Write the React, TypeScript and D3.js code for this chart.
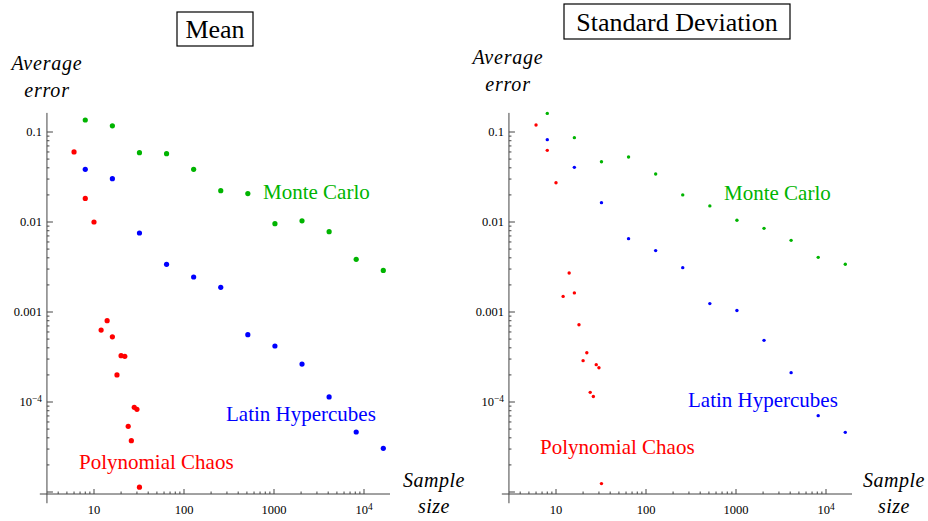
import React from 'react';
import * as d3 from 'd3';

// sample sizes (x)
const sampleSizes = [8, 16, 32, 64, 128, 256, 512, 1024, 2048, 4096, 8192, 16384];
const chaosSizes = [6, 8, 10, 12, 14, 16, 18, 20, 22, 24, 26, 28, 30, 32];

// Mean panel
const meanMonteCarlo = [0.136, 0.117, 0.0589, 0.0574, 0.0385, 0.0223, 0.0207, 0.00957, 0.0103, 0.00781, 0.00385, 0.0029];
const meanLatin = [0.0385, 0.0303, 0.00755, 0.00339, 0.00245, 0.00188, 0.00056, 0.000419, 0.000264, 0.000114, 0.0000464, 0.0000306];
const meanChaos = [0.06, 0.0183, 0.01, 0.00063, 0.0008, 0.00053, 0.0002, 0.000327, 0.000322, 0.0000537, 0.0000372, 0.0000873, 0.000083, 0.0000113];

// Standard deviation panel
const stdMonteCarlo = [0.161, 0.0865, 0.0468, 0.0528, 0.0341, 0.02, 0.0151, 0.01045, 0.0085, 0.00625, 0.00405, 0.00339];
const stdLatin = [0.0822, 0.0405, 0.0164, 0.00653, 0.00481, 0.00311, 0.00124, 0.00104, 0.000484, 0.000212, 0.0000705, 0.000046];
const stdChaos = [0.1196, 0.0625, 0.0273, 0.00149, 0.00271, 0.00163, 0.000723, 0.000288, 0.000353, 0.000128, 0.000115, 0.00026, 0.00024, 0.0000124];

const xTicks = [10, 100, 1000, 10000];
const xTickLabels = ['10', '100', '1000', '10|4'];
const yTicks = [0.1, 0.01, 0.001, 0.0001, 0.00001];
const yTickLabels = ['0.1', '0.01', '0.001', '10|−4', ''];

const seriesNames = ['Monte Carlo', 'Latin Hypercubes', 'Polynomial Chaos'];
const seriesColors = ['#00b400', '#0000ff', '#ff0000'];

const serif = '"Liberation Serif", "Times New Roman", serif';
const axisColor = '#444';

// axis extents in data units
const xAxisFrom = 2.5, xAxisTo = 19450, xCross = 3.0;
const yAxisFrom = 7.5e-6, yAxisTo = 0.163, yCross = 9.5e-6;

type Label = { x: number; y: number };
type PanelProps = {
  title: string;
  box: { x: number; y: number; w: number; h: number; base: number };
  x0: number;
  radius: number;
  values: number[][];
  seriesLabels: Label[];
  yLab: { x: number; y: number };
  xLab: { x: number; y: number };
};

function Sup({ text }: { text: string }) {
  const [base, sup] = text.split('|');
  if (sup === undefined) return <>{base}</>;
  return (
    <>
      {base}
      <tspan dy="-0.45em" fontSize="0.75em">{sup}</tspan>
    </>
  );
}

function Panel({ title, box, x0, radius, values, seriesLabels, yLab, xLab }: PanelProps) {
  const x = d3.scaleLog().domain([10, 10000]).range([x0, x0 + 270]);
  const y = d3.scaleLog().domain([0.1, 0.0001]).range([132, 402]);

  const xMinor: number[] = [];
  for (let e = 0; e <= 4; e++)
    for (let k = 2; k <= 9; k++) {
      const v = k * Math.pow(10, e);
      if (v > xCross && v < xAxisTo) xMinor.push(v);
    }
  const yMinor: number[] = [];
  for (let e = -5; e <= -1; e++)
    for (let k = 2; k <= 9; k++) {
      const v = k * Math.pow(10, e);
      if (v < yAxisTo) yMinor.push(v);
    }

  const sets = [
    { xs: sampleSizes, ys: values[0] },
    { xs: sampleSizes, ys: values[1] },
    { xs: chaosSizes, ys: values[2] },
  ];

  const cx = x(xCross), cy = y(yCross);

  return (
    <g>
      <rect x={box.x} y={box.y} width={box.w} height={box.h} fill="none" stroke="#000" strokeWidth={1.2} />
      <text x={box.x + box.w / 2} y={box.base} textAnchor="middle" fontFamily={serif} fontSize={26}>{title}</text>

      <text x={yLab.x} y={yLab.y} textAnchor="middle" fontFamily={serif} fontStyle="italic" fontSize={20} letterSpacing={0.8}>Average</text>
      <text x={yLab.x} y={yLab.y + 27} textAnchor="middle" fontFamily={serif} fontStyle="italic" fontSize={20} letterSpacing={0.8}>error</text>
      <text x={xLab.x} y={xLab.y} textAnchor="middle" fontFamily={serif} fontStyle="italic" fontSize={20} letterSpacing={0.5}>Sample</text>
      <text x={xLab.x} y={xLab.y + 26} textAnchor="middle" fontFamily={serif} fontStyle="italic" fontSize={20} letterSpacing={0.5}>size</text>

      {/* axes */}
      <line x1={x(xAxisFrom)} x2={x(xAxisTo)} y1={cy} y2={cy} stroke={axisColor} strokeWidth={1} />
      <line x1={cx} x2={cx} y1={y(yAxisFrom)} y2={y(yAxisTo)} stroke={axisColor} strokeWidth={1} />

      {xTicks.map((t, i) => (
        <g key={'xt' + t}>
          <line x1={x(t)} x2={x(t)} y1={cy} y2={cy - 5} stroke={axisColor} />
          <text x={x(t)} y={cy + 20} textAnchor="middle" fontFamily={serif} fontSize={12.5}>
            <Sup text={xTickLabels[i]} />
          </text>
        </g>
      ))}
      {xMinor.map((t) => (
        <line key={'xm' + t} x1={x(t)} x2={x(t)} y1={cy} y2={cy - 2.5} stroke={axisColor} />
      ))}
      {yTicks.map((t, i) => (
        <g key={'yt' + t}>
          <line x1={cx} x2={cx + 6} y1={y(t)} y2={y(t)} stroke={axisColor} />
          <text x={cx - 5} y={y(t)} dy="0.35em" textAnchor="end" fontFamily={serif} fontSize={12.5}>
            <Sup text={yTickLabels[i]} />
          </text>
        </g>
      ))}
      {yMinor.map((t) => (
        <line key={'ym' + t} x1={cx} x2={cx + 2.5} y1={y(t)} y2={y(t)} stroke={axisColor} />
      ))}

      {sets.map((s, si) => (
        <g key={'s' + si} fill={seriesColors[si]}>
          {s.ys.map((v, i) => (
            <circle key={i} cx={x(s.xs[i])} cy={y(v)} r={radius} />
          ))}
        </g>
      ))}

      {seriesLabels.map((l, i) => (
        <text key={'l' + i} x={l.x} y={l.y} fontFamily={serif} fontSize={21} fill={seriesColors[i]}>{seriesNames[i]}</text>
      ))}
    </g>
  );
}

export default function App() {
  return (
    <svg width={928} height={521} style={{ position: 'absolute', left: 0, top: 0, background: '#fff' }}>
      <Panel
        title="Mean"
        box={{ x: 177, y: 12, w: 76, h: 34, base: 38 }}
        x0={94}
        radius={2.6}
        values={[meanMonteCarlo, meanLatin, meanChaos]}
        seriesLabels={[{ x: 263, y: 199 }, { x: 226, y: 421 }, { x: 79, y: 469 }]}
        yLab={{ x: 47, y: 70 }}
        xLab={{ x: 434, y: 487 }}
      />
      <Panel
        title="Standard Deviation"
        box={{ x: 564, y: 4, w: 226, h: 35, base: 31 }}
        x0={556}
        radius={1.7}
        values={[stdMonteCarlo, stdLatin, stdChaos]}
        seriesLabels={[{ x: 724, y: 200 }, { x: 688, y: 407 }, { x: 540, y: 454 }]}
        yLab={{ x: 508, y: 64 }}
        xLab={{ x: 894, y: 487 }}
      />
    </svg>
  );
}
